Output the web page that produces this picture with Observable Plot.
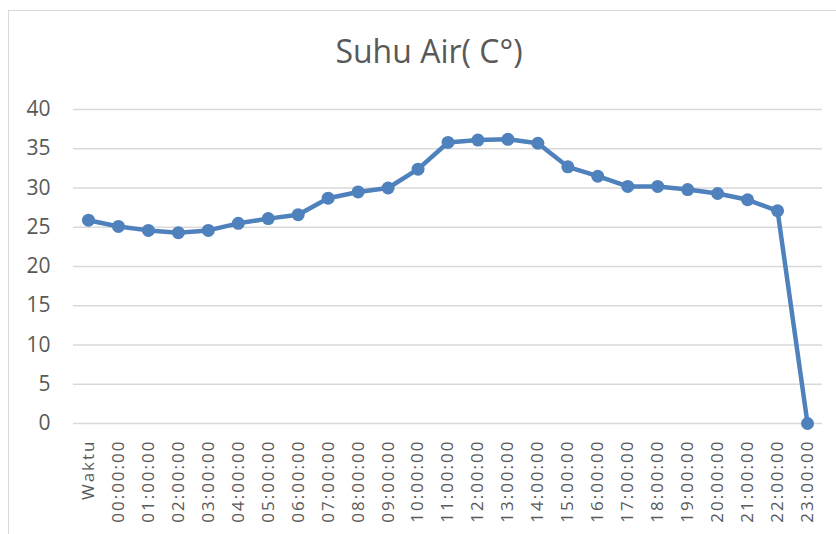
<!DOCTYPE html>
<html>
<head>
<meta charset="utf-8">
<script src="https://cdn.jsdelivr.net/npm/d3@7"></script>
<script src="https://cdn.jsdelivr.net/npm/@observablehq/plot@0.6"></script>
<style>
  html, body { margin: 0; padding: 0; background: #fff; }
  #wrap { position: relative; width: 836px; height: 534px; overflow: hidden; background: #fff; font-family: "Open Sans", sans-serif; }
  #frame { position: absolute; left: 8px; top: 10px; width: 900px; height: 600px; border-top: 1.5px solid #d9d9d9; border-left: 1.5px solid #d9d9d9; }
  #title { position: absolute; left: 0; width: 858px; top: 30px; text-align: center; font-size: 32px; color: #595959; line-height: 42px; }
  #chart { position: absolute; left: 0; top: 90px; width: 836px; }
</style>
</head>
<body>
<div id="wrap">
  <div id="frame"></div>
  <div id="title">Suhu Air( C°)</div>
  <div id="chart"></div>
</div>
<script>
const categories = ["Waktu", "00:00:00", "01:00:00", "02:00:00", "03:00:00", "04:00:00", "05:00:00", "06:00:00", "07:00:00", "08:00:00", "09:00:00", "10:00:00", "11:00:00", "12:00:00", "13:00:00", "14:00:00", "15:00:00", "16:00:00", "17:00:00", "18:00:00", "19:00:00", "20:00:00", "21:00:00", "22:00:00", "23:00:00"];
const suhu = [25.9, 25.1, 24.6, 24.3, 24.6, 25.5, 26.1, 26.6, 28.7, 29.5, 30.0, 32.4, 35.8, 36.1, 36.2, 35.7, 32.7, 31.5, 30.2, 30.2, 29.8, 29.3, 28.5, 27.1, 0];
const yTicks = [0, 5, 10, 15, 20, 25, 30, 35, 40];

const data = categories.map((c, i) => ({waktu: c, suhu: suhu[i]}));
const blue = "#4f81bd";

const chart = Plot.plot({
  width: 836,
  height: 444,
  marginTop: 19,
  marginBottom: 111,
  marginLeft: 73,
  marginRight: 14,
  style: {fontFamily: "Open Sans, sans-serif", color: "#595959", background: "transparent"},
  x: {type: "point", domain: categories, padding: 0.5, round: false, label: null},
  y: {domain: [0, 40], label: null},
  marks: [
    Plot.gridY(yTicks, {stroke: "#d9d9d9", strokeOpacity: 1, strokeWidth: 1.3}),
    Plot.axisY(yTicks, {tickSize: 0, tickPadding: 23, fontSize: 21, label: null, fill: "#595959"}),
    Plot.axisX({tickSize: 0, tickRotate: -90, tickPadding: 16, fontSize: 17, label: null, fill: "#595959"}),
    Plot.line(data, {x: "waktu", y: "suhu", stroke: blue, strokeWidth: 4.5, strokeLinejoin: "round", strokeLinecap: "round"}),
    Plot.dot(data, {x: "waktu", y: "suhu", r: 6.5, fill: blue, stroke: "none"})
  ]
});
document.getElementById("chart").appendChild(chart);
d3.select(chart).selectAll("g").filter(function () {
  const a = this.getAttribute("aria-label") || "";
  return a.indexOf("x-axis") === 0;
}).selectAll("text").style("letter-spacing", "2px");
</script>
</body>
</html>
